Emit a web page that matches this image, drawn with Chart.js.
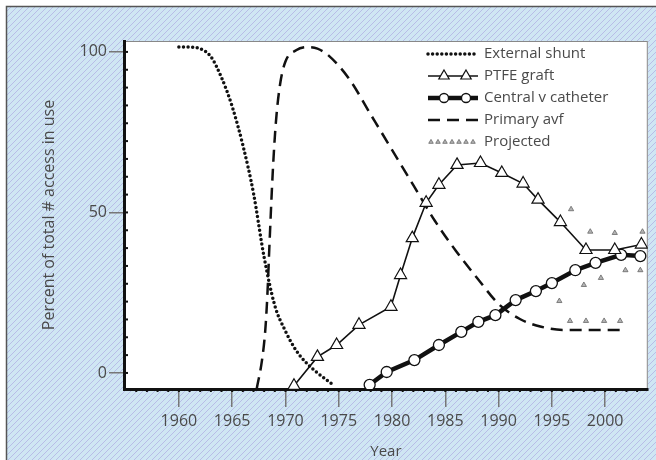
<!DOCTYPE html>
<html>
<head>
<meta charset="utf-8">
<script src="https://cdn.jsdelivr.net/npm/chart.js@4.4.1/dist/chart.umd.min.js"></script>
<style>
  html, body { margin: 0; padding: 0; background: #fff; }
</style>
</head>
<body>
<canvas id="chart" width="656" height="460"></canvas>
<script>
// Percent of total # access in use, by year
const xTicks = [1960, 1965, 1970, 1975, 1980, 1985, 1990, 1995, 2000];
const yTicks = [0, 50, 100];

const shuntYears = [1960, 1961, 1962, 1963, 1964, 1965, 1966, 1967, 1968, 1969, 1970, 1971, 1972, 1973, 1974, 1974.6];
const shuntValues = [101.5, 101.5, 101, 98.5, 92, 83, 71, 56, 36, 21, 13, 7, 3, 0, -2.5, -4];

const ptfeYears = [1970.8, 1973, 1974.8, 1976.9, 1979.9, 1980.8, 1981.9, 1983.2, 1984.4, 1986.1, 1988.3, 1990.3, 1992.3, 1993.7, 1995.8, 1998.2, 2000.9, 2003.4];
const ptfeValues = [-4, 5, 8.7, 15, 20.6, 30.5, 42, 53, 58.6, 64.8, 65.4, 62.3, 59, 54, 47, 38.3, 38.3, 40];

const cathYears = [1977.9, 1979.5, 1982.1, 1984.4, 1986.5, 1988.1, 1989.7, 1991.6, 1993.5, 1995, 1997.2, 1999.1, 2001.5, 2003.3];
const cathValues = [-3.7, 0.3, 4, 8.7, 12.8, 15.9, 18, 22.7, 25.5, 28, 32, 34.3, 36.8, 36.4];

const avfYears = [1967.3, 1967.8, 1968.1, 1968.3, 1968.5, 1968.8, 1969.1, 1969.5, 1970, 1971, 1972, 1973, 1974, 1976, 1978, 1980, 1982, 1984, 1986, 1988, 1990, 1992, 1994, 1996, 2002];
const avfValues = [-5, 4, 13, 24, 40, 62, 78, 90, 97, 100.5, 101.5, 101, 99, 91.5, 80.5, 69.5, 58.5, 47.5, 38, 29.5, 21.5, 16.8, 14.4, 13.4, 13.4];

const projYears = [1996.8, 1998.6, 2000.9, 2003.5, 1995.7, 1998, 1999.6, 2001.9, 2003.3, 1996.7, 1998.2, 1999.9, 2001.4];
const projValues = [51, 44, 43.6, 44, 22.4, 27.4, 29.6, 32, 32, 16.2, 16.2, 16.2, 16.2];

const pts = (xs, ys) => xs.map((x, i) => ({ x, y: ys[i] }));

const textColor = '#4a4a4a';
const fontFamily = '"Open Sans", "DejaVu Sans", sans-serif';

function hatchPattern(ctx) {
  const c = document.createElement('canvas');
  c.width = 6; c.height = 6;
  const g = c.getContext('2d');
  g.fillStyle = '#cfe6f3';
  g.fillRect(0, 0, 6, 6);
  g.strokeStyle = 'rgba(165, 155, 220, 0.55)';
  g.lineWidth = 1;
  g.beginPath();
  g.moveTo(0, 6); g.lineTo(6, 0);
  g.moveTo(-1, 1); g.lineTo(1, -1);
  g.moveTo(5, 7); g.lineTo(7, 5);
  g.stroke();
  return ctx.createPattern(c, 'repeat');
}

// blue hatched panel + white plot box
const panelBackground = {
  id: 'panelBackground',
  beforeDraw(chart) {
    const { ctx, width, height, chartArea: a } = chart;
    ctx.save();
    ctx.fillStyle = '#fff';
    ctx.fillRect(0, 0, width, height);
    ctx.fillStyle = hatchPattern(ctx);
    ctx.fillRect(6, 6, width - 6, height - 6);
    ctx.strokeStyle = '#555';
    ctx.lineWidth = 1.5;
    ctx.beginPath();
    ctx.moveTo(6.5, height);
    ctx.lineTo(6.5, 6.5);
    ctx.lineTo(width, 6.5);
    ctx.stroke();
    ctx.fillStyle = '#fff';
    ctx.fillRect(a.left, a.top, a.width, a.height);
    ctx.strokeStyle = '#888';
    ctx.lineWidth = 1;
    ctx.strokeRect(a.left + 0.5, a.top + 0.5, a.width - 1, a.height - 1);
    ctx.restore();
  }
};

// small notches along the two axes
const axisNotches = {
  id: 'axisNotches',
  afterDraw(chart) {
    const { ctx, chartArea: a, scales: { x, y } } = chart;
    ctx.save();
    ctx.fillStyle = '#111';
    for (let k = 0; k <= 18; k++) {
      const py = y.getPixelForValue(k * 100 / 18);
      ctx.fillRect(a.left, py - 1, 4, 2);
    }
    for (let yr = 1956; yr <= 2003; yr++) {
      const px = x.getPixelForValue(yr);
      ctx.fillRect(px - 1, a.bottom, 2, 3);
    }
    ctx.restore();
  }
};

// legend in the upper right of the plot box
const insideLegend = {
  id: 'insideLegend',
  afterDraw(chart) {
    const { ctx } = chart;
    const x0 = 428, x1 = 478, tx = 484;
    const rows = [54, 76, 98, 120, 142];
    ctx.save();
    chart.data.datasets.forEach((ds, i) => {
      const yy = rows[i];
      if (ds.showLine !== false) {
        ctx.strokeStyle = ds.borderColor;
        ctx.lineWidth = ds.borderWidth;
        ctx.lineCap = ds.borderCapStyle || 'butt';
        ctx.setLineDash(ds.borderDash || []);
        ctx.beginPath();
        ctx.moveTo(x0, yy);
        ctx.lineTo(x1, yy);
        ctx.stroke();
        ctx.setLineDash([]);
      }
      const marks = ds.showLine === false ? [431, 438, 445, 452, 459, 466, 473] : (ds.pointRadius > 0 ? [444, 466] : []);
      marks.forEach(mx => {
        ctx.fillStyle = ds.pointBackgroundColor;
        ctx.strokeStyle = ds.pointBorderColor;
        ctx.lineWidth = ds.pointBorderWidth;
        Chart.helpers.drawPoint(ctx, {
          pointStyle: ds.pointStyle, rotation: 0,
          radius: ds.showLine === false ? 2.6 : ds.pointRadius - 1,
          borderWidth: ds.pointBorderWidth
        }, mx, yy);
      });
      ctx.fillStyle = textColor;
      ctx.font = '15px ' + fontFamily;
      ctx.textBaseline = 'middle';
      ctx.textAlign = 'left';
      ctx.fillText(ds.label, tx, yy);
    });
    ctx.restore();
  }
};

new Chart(document.getElementById('chart'), {
  type: 'line',
  data: {
    datasets: [
      {
        label: 'External shunt',
        data: pts(shuntYears, shuntValues),
        borderColor: '#111',
        borderWidth: 3.5,
        borderDash: [0, 4.6],
        borderCapStyle: 'round',
        pointRadius: 0,
        cubicInterpolationMode: 'monotone'
      },
      {
        label: 'PTFE graft',
        data: pts(ptfeYears, ptfeValues),
        borderColor: '#111',
        borderWidth: 1.6,
        pointStyle: 'triangle',
        pointRadius: 7,
        pointBackgroundColor: '#fff',
        pointBorderColor: '#111',
        pointBorderWidth: 1.2,
        tension: 0
      },
      {
        label: 'Central v catheter',
        data: pts(cathYears, cathValues),
        borderColor: '#111',
        borderWidth: 4.5,
        pointStyle: 'circle',
        pointRadius: 5.5,
        pointBackgroundColor: '#fff',
        pointBorderColor: '#111',
        pointBorderWidth: 1.3,
        tension: 0
      },
      {
        label: 'Primary avf',
        data: pts(avfYears, avfValues),
        borderColor: '#111',
        borderWidth: 2.5,
        borderDash: [12, 7],
        pointRadius: 0,
        cubicInterpolationMode: 'monotone'
      },
      {
        label: 'Projected',
        data: pts(projYears, projValues),
        showLine: false,
        pointStyle: 'triangle',
        pointRadius: 3,
        pointBackgroundColor: '#b5b5b5',
        pointBorderColor: '#666',
        pointBorderWidth: 0.8
      }
    ]
  },
  options: {
    responsive: false,
    animation: false,
    devicePixelRatio: 1,
    layout: { padding: { left: 0, top: 41, right: 7, bottom: 0 } },
    plugins: {
      legend: { display: false },
      tooltip: { enabled: false }
    },
    scales: {
      x: {
        type: 'linear',
        min: 1954.85,
        max: 2004,
        afterBuildTicks: s => { s.ticks = xTicks.map(v => ({ value: v })); },
        afterFit: s => { s.height = 71; },
        grid: { drawOnChartArea: false, drawTicks: true, tickLength: 18, color: '#777', lineWidth: 1.5 },
        border: { display: true, color: '#111', width: 3 },
        ticks: {
          color: textColor,
          font: { family: fontFamily, size: 16 },
          padding: 5,
          maxRotation: 0,
          autoSkip: false,
          callback: v => String(v)
        },
        title: {
          display: true,
          text: 'Year',
          color: textColor,
          font: { family: fontFamily, size: 15 },
          padding: { top: 0, bottom: -1 }
        }
      },
      y: {
        type: 'linear',
        min: -5,
        max: 103.4,
        afterBuildTicks: s => { s.ticks = yTicks.map(v => ({ value: v })); },
        afterFit: s => { s.width = 124; },
        grid: { drawOnChartArea: false, drawTicks: true, tickLength: 15, color: '#777', lineWidth: 1.5 },
        border: { display: true, color: '#111', width: 3 },
        ticks: {
          color: textColor,
          font: { family: fontFamily, size: 16 },
          padding: 2,
          callback: v => String(v)
        },
        title: {
          display: true,
          text: 'Percent of total # access in use',
          color: textColor,
          font: { family: fontFamily, size: 16 },
          padding: { top: 40, bottom: 0 }
        }
      }
    }
  },
  plugins: [panelBackground, axisNotches, insideLegend]
});
</script>
</body>
</html>
